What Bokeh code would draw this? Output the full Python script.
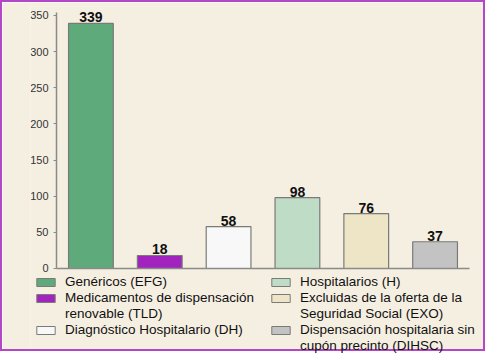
from bokeh.plotting import figure
from bokeh.models import (ColumnDataSource, Range1d, FixedTicker, Legend, LegendItem,
                          LinearAxis)
from bokeh.embed import file_html
from bokeh.resources import INLINE
from bokeh.core.properties import value

categories = ["Genéricos (EFG)", "Medicamentos de dispensación renovable (TLD)",
              "Diagnóstico Hospitalario (DH)", "Hospitalarios (H)",
              "Excluidas de la oferta de la Seguridad Social (EXO)",
              "Dispensación hospitalaria sin cupón precinto (DIHSC)"]
values = [339, 18, 58, 98, 76, 37]
colors = ["#5faa7a", "#a224be", "#f8f8f8", "#bedcc6", "#eee5c6", "#c3c3c3"]
legend_lines = [["Genéricos (EFG)"], ["Medicamentos de dispensación", "renovable (TLD)"],
                ["Diagnóstico Hospitalario (DH)"], ["Hospitalarios (H)"],
                ["Excluidas de la oferta de la", "Seguridad Social (EXO)"],
                ["Dispensación hospitalaria sin", "cupón precinto (DIHSC)"]]
y_ticks = [0, 50, 100, 150, 200, 250, 300, 350]

BG = "#f5efe2"
FONT = "Liberation Sans"
AXC = "#8a8a8a"

xs = [i + 0.5 for i in range(len(values))]
src = ColumnDataSource(dict(x=xs, top=values, color=colors, label=[str(v) for v in values]))

p = figure(width=485, height=351, output_backend="svg", toolbar_location=None,
           x_range=Range1d(-0.3777, 6.2615), y_range=Range1d(-117.6, 362.45),
           x_axis_location=None, y_axis_location=None,
           min_border_left=28, min_border_right=0, min_border_top=4, min_border_bottom=0)
p.background_fill_color = BG
p.border_fill_color = BG
p.outline_line_color = None
p.grid.visible = False
p.styles = {"border": "2px solid #b446c8"}

p.vbar(x="x", top="top", width=0.65, bottom=0, source=src, fill_color="color",
       line_color="#7a7a7a", line_width=1.2)
p.text(x="x", y="top", text="label", source=src, text_align="center",
       text_baseline="alphabetic", y_offset=-6, text_font=value(FONT),
       text_font_style="bold", text_font_size="14px", text_color="#111111")

yaxis = LinearAxis(fixed_location=0, bounds=(0, 354), ticker=FixedTicker(ticks=y_ticks),
                   minor_tick_line_color=None, major_tick_out=3, major_tick_in=0,
                   axis_line_color=AXC, axis_line_width=1.5, major_tick_line_color=AXC,
                   major_label_text_font=FONT, major_label_text_font_size="11px",
                   major_label_text_color="#333333", major_label_standoff=5)
p.add_layout(yaxis, "left")

xaxis = LinearAxis(fixed_location=0, bounds=(0, 6), ticker=FixedTicker(ticks=[]),
                   minor_tick_line_color=None, major_tick_out=0, major_tick_in=0,
                   axis_line_color=AXC, axis_line_width=1.5)
p.add_layout(xaxis, "above")

# legend swatches: renderers kept outside the visible ranges, used only for legend glyphs
sw = [p.rect(x=[-10], y=[-1000], width=1, height=1, fill_color=c, line_color="#7a7a7a")
      for c in colors]
blank = p.rect(x=[-10], y=[-1000], width=1, height=1, fill_alpha=0, line_alpha=0)

def build_items(idx):
    items = []
    for i in idx:
        lines = legend_lines[i]
        items.append(LegendItem(label=lines[0], renderers=[sw[i]]))
        for extra in lines[1:]:
            items.append(LegendItem(label=extra, renderers=[blank]))
    return items

def make_legend(items, loc):
    return Legend(items=items, location=loc, orientation="vertical",
                  glyph_width=23, glyph_height=10, label_standoff=8,
                  label_text_font=FONT, label_text_font_size="13.5px", label_text_color="#111111",
                  label_height=15, spacing=1, padding=0, margin=0,
                  background_fill_alpha=0, border_line_alpha=0)

p.add_layout(make_legend(build_items([0, 1, 2]), (4, 16)))
p.add_layout(make_legend(build_items([3, 4, 5]), (239, 0)))

open("out.html", "w").write(file_html(p, INLINE))
